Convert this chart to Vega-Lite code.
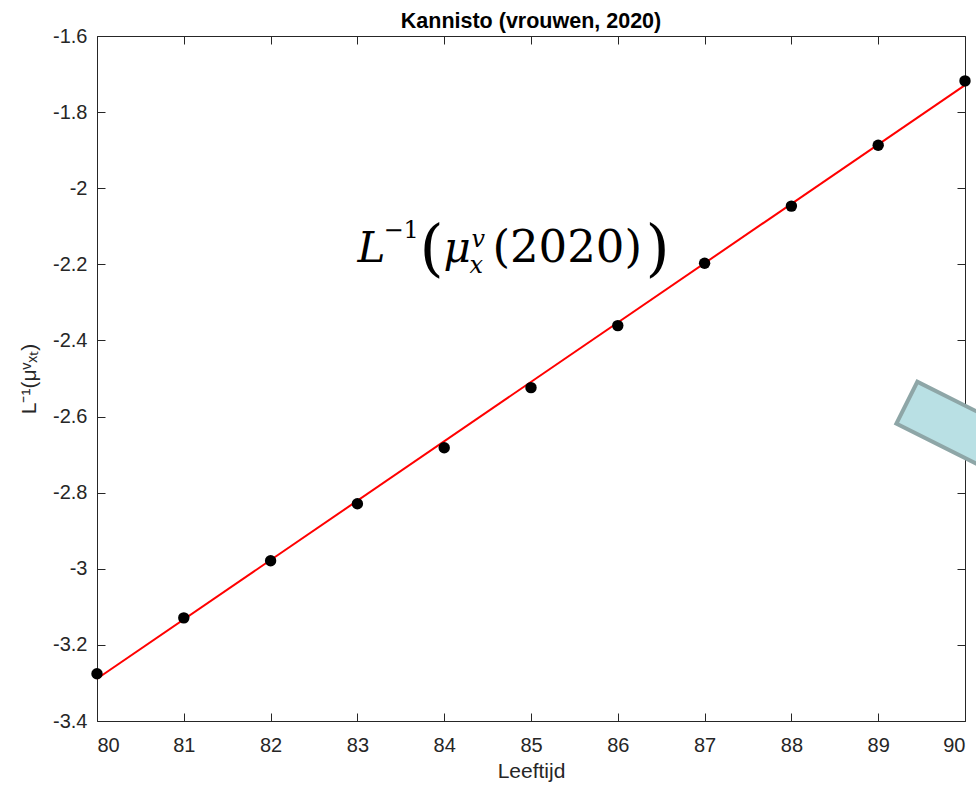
{
  "$schema": "https://vega.github.io/schema/vega-lite/v6.json",
  "width": 868,
  "height": 685,
  "autosize": {"type": "none"},
  "padding": {"left": 97, "top": 36, "right": 11, "bottom": 65},
  "background": "white",
  "config": {
    "view": {"stroke": null},
    "font": "Liberation Sans",
    "axis": {
      "grid": false,
      "domainColor": "#262626",
      "domainWidth": 1,
      "tickColor": "#262626",
      "tickWidth": 1,
      "tickSize": -8,
      "labelColor": "#262626",
      "labelFont": "Liberation Sans",
      "labelFontSize": 20,
      "titleColor": "#262626",
      "titleFont": "Liberation Sans",
      "titleFontSize": 21,
      "titleFontWeight": "normal"
    }
  },
  "title": {
    "text": "Kannisto (vrouwen, 2020)",
    "font": "Liberation Sans",
    "fontSize": 21.5,
    "fontWeight": "bold",
    "color": "#000000",
    "offset": -6
  },
  "datasets": {
    "punten": [
      {"leeftijd": 80, "waarde": -3.276},
      {"leeftijd": 81, "waarde": -3.129},
      {"leeftijd": 82, "waarde": -2.979},
      {"leeftijd": 83, "waarde": -2.829},
      {"leeftijd": 84, "waarde": -2.682},
      {"leeftijd": 85, "waarde": -2.524},
      {"leeftijd": 86, "waarde": -2.361},
      {"leeftijd": 87, "waarde": -2.197},
      {"leeftijd": 88, "waarde": -2.047},
      {"leeftijd": 89, "waarde": -1.887},
      {"leeftijd": 90, "waarde": -1.718}
    ],
    "fit": [
      {"leeftijd": 80, "waarde": -3.289},
      {"leeftijd": 90, "waarde": -1.729}
    ],
    "formule": [
      {"leeftijd": 83.0, "waarde": -2.194}
    ],
    "kader": [
      {"leeftijd": 90.0, "waarde": -2.64}
    ]
  },
  "layer": [
    {
      "data": {"name": "fit"},
      "mark": {"type": "line", "color": "#ff0000", "strokeWidth": 2},
      "encoding": {
        "x": {
          "field": "leeftijd", "type": "quantitative",
          "scale": {"domain": [80, 90], "nice": false, "zero": false},
          "axis": {
            "orient": "bottom",
            "title": "Leeftijd",
            "values": [80, 81, 82, 83, 84, 85, 86, 87, 88, 89, 90],
            "labelExpr": "'' + datum.value",
            "labelPadding": 22,
            "titlePadding": 5
          }
        },
        "y": {
          "field": "waarde", "type": "quantitative",
          "scale": {"domain": [-3.4, -1.6], "nice": false, "zero": false},
          "axis": {
            "orient": "left",
            "title": "L⁻¹(μᵛₓₜ)",
            "values": [-3.4, -3.2, -3, -2.8, -2.6, -2.4, -2.2, -2, -1.8, -1.6],
            "labelExpr": "'' + datum.value",
            "labelPadding": 18,
            "titlePadding": 13
          }
        }
      }
    },
    {
      "data": {"name": "punten"},
      "mark": {"type": "point", "filled": true, "color": "#000000", "opacity": 1, "size": 130},
      "encoding": {
        "x": {
          "field": "leeftijd", "type": "quantitative",
          "axis": {
            "orient": "top", "title": null, "labels": false,
            "values": [80, 81, 82, 83, 84, 85, 86, 87, 88, 89, 90]
          }
        },
        "y": {
          "field": "waarde", "type": "quantitative",
          "axis": {
            "orient": "right", "title": null, "labels": false,
            "values": [-3.4, -3.2, -3, -2.8, -2.6, -2.4, -2.2, -2, -1.8, -1.6]
          }
        }
      }
    },
    {
      "data": {"name": "kader"},
      "mark": {
        "type": "point",
        "shape": "M-1,-0.36L1,-0.36L1,0.36L-1,0.36Z",
        "size": 16900,
        "angle": 26.6,
        "filled": true,
        "fill": "#b9e0e4",
        "stroke": "#8ea6a7",
        "strokeWidth": 4,
        "opacity": 1
      },
      "encoding": {
        "x": {"field": "leeftijd", "type": "quantitative", "axis": null},
        "y": {"field": "waarde", "type": "quantitative", "axis": null}
      }
    },
    {
      "data": {"name": "formule"},
      "layer": [
        {"mark": {"type": "text", "text": "L", "font": "DejaVu Serif", "fontStyle": "italic", "fontSize": 42, "align": "left", "baseline": "alphabetic", "dx": 0, "color": "#000000"}},
        {"mark": {"type": "text", "text": "−1", "font": "DejaVu Serif", "fontSize": 24, "align": "left", "baseline": "alphabetic", "dx": 26, "dy": -24, "color": "#000000"}},
        {"mark": {"type": "text", "text": "(", "font": "DejaVu Serif", "fontSize": 62, "align": "left", "baseline": "alphabetic", "dx": 62, "dy": 7, "color": "#000000"}},
        {"mark": {"type": "text", "text": "μ", "font": "DejaVu Serif", "fontStyle": "italic", "fontSize": 42, "align": "left", "baseline": "alphabetic", "dx": 86, "color": "#000000"}},
        {"mark": {"type": "text", "text": "v", "font": "DejaVu Serif", "fontStyle": "italic", "fontSize": 24, "align": "left", "baseline": "alphabetic", "dx": 114, "dy": -15, "color": "#000000"}},
        {"mark": {"type": "text", "text": "x", "font": "DejaVu Serif", "fontStyle": "italic", "fontSize": 24, "align": "left", "baseline": "alphabetic", "dx": 112, "dy": 11, "color": "#000000"}},
        {"mark": {"type": "text", "text": "(2020)", "font": "DejaVu Serif", "fontSize": 45, "align": "left", "baseline": "alphabetic", "dx": 135, "color": "#000000"}},
        {"mark": {"type": "text", "text": ")", "font": "DejaVu Serif", "fontSize": 62, "align": "left", "baseline": "alphabetic", "dx": 288, "dy": 7, "color": "#000000"}}
      ],
      "encoding": {
        "x": {"field": "leeftijd", "type": "quantitative", "axis": null},
        "y": {"field": "waarde", "type": "quantitative", "axis": null}
      }
    }
  ],
  "resolve": {"axis": {"x": "independent", "y": "independent"}}
}
